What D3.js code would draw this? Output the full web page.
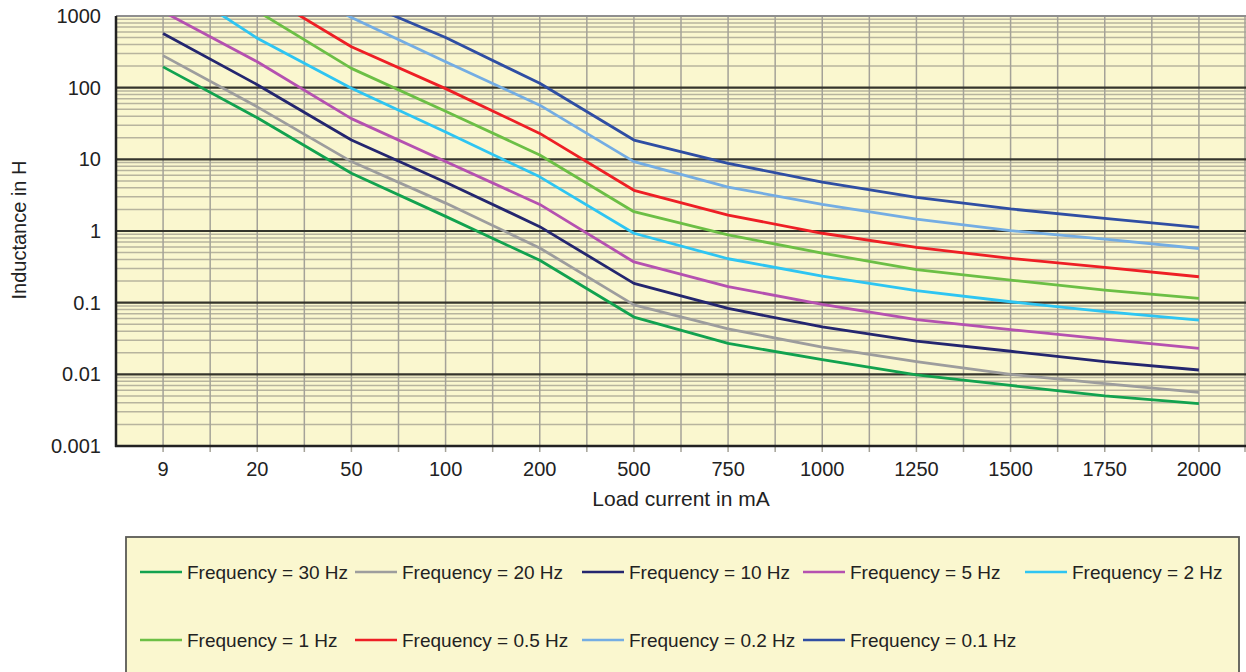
<!DOCTYPE html>
<html>
<head>
<meta charset="utf-8">
<script src="https://cdnjs.cloudflare.com/ajax/libs/d3/7.8.5/d3.min.js"></script>
<style>
  body { margin: 0; background: #fff; }
  svg { display: block; font-family: "Liberation Sans", Arial, sans-serif; }
  .tick-label { font-size: 20px; fill: #222; }
  .axis-title { font-size: 20px; fill: #222; }
  .legend-text { font-size: 19px; fill: #222; }
</style>
</head>
<body>
<svg id="chart"></svg>
<script>
/*
    GLOBAL LAYOUT CONSTANTS
*/
var width = 1246;
var height = 672;
var plot = {left: 116, right: 1246, top: 16, bottom: 446};

var bgColor = "#faf7cf";

/*
    DATA
    x categories are load current in mA, values are inductance in H
*/
var currents = ["9", "20", "50", "100", "200", "500", "750", "1000", "1250", "1500", "1750", "2000"];

var yTicks = [1000, 100, 10, 1, 0.1, 0.01, 0.001];
var yTickLabels = ["1000", "100", "10", "1", "0.1", "0.01", "0.001"];

var seriesNames = ["Frequency = 30 Hz", "Frequency = 20 Hz", "Frequency = 10 Hz",
                   "Frequency = 5 Hz", "Frequency = 2 Hz", "Frequency = 1 Hz",
                   "Frequency = 0.5 Hz", "Frequency = 0.2 Hz", "Frequency = 0.1 Hz"];
var seriesColors = ["#12a24f", "#9d9d9d", "#24266f", "#b551b0", "#2ec5f2",
                    "#6cbf45", "#ee1f25", "#74ade3", "#2f4ea3"];

var hz30  = [195, 38, 6.4, 1.6, 0.39, 0.063, 0.027, 0.016, 0.0098, 0.007, 0.005, 0.0039];
var hz20  = [280, 54, 9.3, 2.45, 0.58, 0.093, 0.043, 0.024, 0.015, 0.010, 0.0074, 0.0056];
var hz10  = [570, 110, 18.6, 4.8, 1.15, 0.186, 0.083, 0.046, 0.029, 0.021, 0.015, 0.0115];
var hz5   = [1150, 230, 37, 9.3, 2.35, 0.37, 0.167, 0.095, 0.058, 0.042, 0.031, 0.023];
var hz2   = [3500, 490, 98, 24, 5.7, 0.93, 0.41, 0.235, 0.147, 0.103, 0.075, 0.057];
var hz1   = [6000, 1170, 186, 47, 11.5, 1.86, 0.88, 0.49, 0.29, 0.207, 0.15, 0.115];
var hz05  = [12000, 2300, 372, 97, 23, 3.7, 1.67, 0.93, 0.59, 0.415, 0.31, 0.23];
var hz02  = [25000, 5000, 950, 230, 57, 9.3, 4.1, 2.35, 1.46, 1.01, 0.77, 0.57];
var hz01  = [50000, 9000, 1800, 500, 115, 18.6, 8.8, 4.8, 2.95, 2.03, 1.5, 1.12];

var seriesValues = [hz30, hz20, hz10, hz5, hz2, hz1, hz05, hz02, hz01];

// legend grid: two rows, five columns
var legendCols = [140, 355, 582, 803, 1025];
var legendRows = [572, 640];

/*
    SCALES
*/
var x = d3.scalePoint()
    .domain(currents)
    .range([plot.left, plot.right])
    .padding(0.5);

var y = d3.scaleLog()
    .domain([0.001, 1000])
    .range([plot.bottom, plot.top]);

var svg = d3.select("#chart")
    .attr("width", width)
    .attr("height", height);

drawChart();

function drawChart() {
  var step = x.step();

  // background
  svg.append("rect")
      .attr("x", plot.left).attr("y", plot.top)
      .attr("width", plot.right - plot.left)
      .attr("height", plot.bottom - plot.top)
      .attr("fill", bgColor);

  // horizontal log grid, minor lines first
  var allTicks = y.ticks();
  var isMajor = function(v) { return Math.abs(Math.log10(v) - Math.round(Math.log10(v))) < 1e-6; };

  svg.append("g").selectAll("line")
      .data(allTicks.filter(function(v) { return !isMajor(v); }))
      .enter().append("line")
      .attr("x1", plot.left).attr("x2", plot.right)
      .attr("y1", function(d) { return y(d); })
      .attr("y2", function(d) { return y(d); })
      .attr("stroke", "#b7b49e")
      .attr("stroke-width", 1.5);

  // vertical grid: at each category and halfway between
  var vLines = [];
  currents.forEach(function(c) {
    vLines.push(x(c) - step / 2);
    vLines.push(x(c));
  });
  vLines.push(x(currents[currents.length - 1]) + step / 2 - 1);

  svg.append("g").selectAll("line")
      .data(vLines)
      .enter().append("line")
      .attr("x1", function(d) { return d; })
      .attr("x2", function(d) { return d; })
      .attr("y1", plot.top).attr("y2", plot.bottom)
      .attr("stroke", "#a4a298")
      .attr("stroke-width", 1.5);

  // tick marks below the axis
  svg.append("g").selectAll("line")
      .data(vLines.slice(1))
      .enter().append("line")
      .attr("x1", function(d) { return d; })
      .attr("x2", function(d) { return d; })
      .attr("y1", plot.bottom).attr("y2", plot.bottom + 6)
      .attr("stroke", "#a4a298")
      .attr("stroke-width", 1.5);

  // decade lines
  svg.append("g").selectAll("line")
      .data(yTicks.slice(1, yTicks.length - 1))
      .enter().append("line")
      .attr("x1", plot.left).attr("x2", plot.right)
      .attr("y1", function(d) { return y(d); })
      .attr("y2", function(d) { return y(d); })
      .attr("stroke", "#35352c")
      .attr("stroke-width", 2.2);

  // top border
  svg.append("line")
      .attr("x1", plot.left).attr("x2", plot.right)
      .attr("y1", plot.top).attr("y2", plot.top)
      .attr("stroke", "#8f8f8f").attr("stroke-width", 2);

  // clip for curves
  svg.append("clipPath").attr("id", "plot-clip")
    .append("rect")
      .attr("x", plot.left).attr("y", plot.top)
      .attr("width", plot.right - plot.left)
      .attr("height", plot.bottom - plot.top);

  var line = d3.line()
      .x(function(d, i) { return x(currents[i]); })
      .y(function(d) { return y(d); });

  svg.append("g")
      .attr("clip-path", "url(#plot-clip)")
      .selectAll("path")
      .data(seriesValues)
      .enter().append("path")
      .attr("d", line)
      .attr("fill", "none")
      .attr("stroke", function(d, i) { return seriesColors[i]; })
      .attr("stroke-width", 2.8)
      .attr("stroke-linejoin", "round");

  // axes lines
  svg.append("line")
      .attr("x1", plot.left).attr("x2", plot.left)
      .attr("y1", plot.top).attr("y2", plot.bottom + 1)
      .attr("stroke", "#222").attr("stroke-width", 2.5);
  svg.append("line")
      .attr("x1", plot.left - 1).attr("x2", plot.right)
      .attr("y1", plot.bottom).attr("y2", plot.bottom)
      .attr("stroke", "#222").attr("stroke-width", 2.5);

  // y tick labels
  svg.append("g").selectAll("text")
      .data(yTicks)
      .enter().append("text")
      .attr("class", "tick-label")
      .attr("x", plot.left - 15)
      .attr("y", function(d) { return y(d); })
      .attr("dy", "0.35em")
      .attr("text-anchor", "end")
      .text(function(d, i) { return yTickLabels[i]; });

  // x tick labels
  svg.append("g").selectAll("text")
      .data(currents)
      .enter().append("text")
      .attr("class", "tick-label")
      .attr("x", function(d) { return x(d); })
      .attr("y", 469)
      .attr("dy", "0.35em")
      .attr("text-anchor", "middle")
      .text(function(d) { return d; });

  // axis titles
  svg.append("text")
      .attr("class", "axis-title")
      .attr("x", 681).attr("y", 499)
      .attr("dy", "0.35em")
      .attr("text-anchor", "middle")
      .style("font-size", "21px")
      .text("Load current in mA");

  svg.append("text")
      .attr("class", "axis-title")
      .attr("transform", "translate(19,230) rotate(-90)")
      .attr("dy", "0.35em")
      .attr("text-anchor", "middle")
      .text("Inductance in H");

  drawLegend();
}

function drawLegend() {
  svg.append("rect")
      .attr("x", 126).attr("y", 537)
      .attr("width", 1113).attr("height", 160)
      .attr("fill", bgColor)
      .attr("stroke", "#5a5a55")
      .attr("stroke-width", 1.8);

  var item = svg.append("g").selectAll("g")
      .data(seriesNames)
      .enter().append("g")
      .attr("transform", function(d, i) {
        var col = i % 5, row = Math.floor(i / 5);
        return "translate(" + legendCols[col] + "," + legendRows[row] + ")";
      });

  item.append("line")
      .attr("x1", 0).attr("x2", 42)
      .attr("y1", 0).attr("y2", 0)
      .attr("stroke", function(d, i) { return seriesColors[i]; })
      .attr("stroke-width", 2.5);

  item.append("text")
      .attr("class", "legend-text")
      .attr("x", 47).attr("y", 0)
      .attr("dy", "0.35em")
      .text(function(d) { return d; });
}
</script>
</body>
</html>
